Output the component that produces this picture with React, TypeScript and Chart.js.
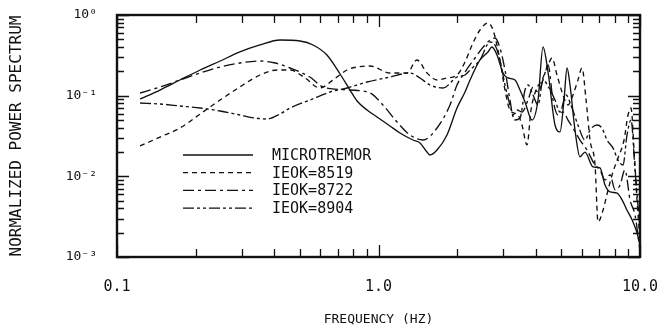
import React, { useEffect, useRef } from "react";
import { Chart, registerables } from "chart.js";

Chart.register(...registerables);

// ---- data ----
const seriesLabels = ["MICROTREMOR", "IEOK=8519", "IEOK=8722", "IEOK=8904"];

const microFreq = [0.1225, 0.146, 0.174, 0.208, 0.248, 0.295, 0.352, 0.42, 0.501, 0.562, 0.635, 0.713, 0.778, 0.828, 0.904, 0.987, 1.106, 1.208, 1.355, 1.441, 1.533, 1.574, 1.674, 1.828, 1.996, 2.142, 2.239, 2.444, 2.622, 2.716, 2.839, 2.993, 3.127, 3.327, 3.476, 3.633, 3.864, 4.074, 4.257, 4.449, 4.731, 4.944, 5.121, 5.259, 5.399, 5.642, 5.896, 6.16, 6.61, 7.03, 7.35, 7.68, 8.17, 8.54, 8.92, 9.32, 9.74, 10.0];
const microValues = [0.091, 0.1175, 0.1564, 0.208, 0.269, 0.348, 0.425, 0.49, 0.476, 0.425, 0.319, 0.1856, 0.1175, 0.0859, 0.0664, 0.0544, 0.0421, 0.0345, 0.0282, 0.0259, 0.02, 0.0184, 0.0212, 0.0326, 0.0703, 0.111, 0.1564, 0.277, 0.348, 0.401, 0.319, 0.191, 0.1656, 0.1564, 0.1175, 0.0835, 0.0499, 0.0884, 0.401, 0.1965, 0.0433, 0.0355, 0.0884, 0.2203, 0.1356, 0.0375, 0.0174, 0.02, 0.0131, 0.0127, 0.0078, 0.0064, 0.0062, 0.0051, 0.0038, 0.0029, 0.002, 0.0014];

const ieok8519Freq = [0.1225, 0.146, 0.174, 0.208, 0.248, 0.303, 0.352, 0.409, 0.459, 0.524, 0.597, 0.67, 0.758, 0.828, 0.928, 1.106, 1.285, 1.403, 1.533, 1.674, 1.828, 1.996, 2.142, 2.279, 2.444, 2.622, 2.741, 2.914, 3.046, 3.183, 3.416, 3.537, 3.698, 3.83, 4.002, 4.22, 4.449, 4.609, 4.816, 5.032, 5.305, 5.542, 5.79, 6.0, 6.22, 6.44, 6.73, 6.91, 7.22, 7.55, 7.88, 8.24, 8.69, 9.0, 9.24, 9.49, 9.74, 10.0];
const ieok8519Values = [0.0238, 0.0307, 0.0397, 0.0593, 0.0884, 0.1356, 0.1804, 0.208, 0.208, 0.1656, 0.1245, 0.1564, 0.208, 0.2266, 0.2332, 0.191, 0.191, 0.277, 0.191, 0.1564, 0.1656, 0.1804, 0.2615, 0.425, 0.652, 0.796, 0.652, 0.277, 0.1175, 0.0664, 0.0576, 0.0433, 0.0245, 0.0664, 0.1175, 0.1564, 0.24, 0.293, 0.1804, 0.111, 0.0766, 0.1019, 0.1564, 0.2203, 0.0884, 0.0282, 0.0138, 0.00272, 0.0038, 0.0068, 0.0113, 0.0169, 0.0282, 0.0576, 0.0703, 0.0212, 0.0051, 0.0016];

const ieok8722Freq = [0.1225, 0.146, 0.174, 0.208, 0.248, 0.295, 0.352, 0.402, 0.459, 0.547, 0.614, 0.778, 0.928, 1.04, 1.177, 1.319, 1.48, 1.674, 1.877, 1.996, 2.142, 2.339, 2.554, 2.789, 2.914, 3.046, 3.183, 3.268, 3.385, 3.537, 3.731, 3.898, 4.074, 4.257, 4.449, 4.648, 4.858, 5.076, 5.305, 5.542, 5.896, 6.27, 6.73, 7.03, 7.35, 7.68, 8.03, 8.39, 8.76, 9.16, 9.57, 10.0];
const ieok8722Values = [0.1079, 0.128, 0.1564, 0.191, 0.2266, 0.254, 0.269, 0.254, 0.2203, 0.1703, 0.128, 0.1175, 0.1079, 0.0766, 0.0472, 0.0326, 0.0282, 0.0397, 0.0766, 0.1356, 0.1965, 0.293, 0.425, 0.519, 0.39, 0.208, 0.0884, 0.0576, 0.0664, 0.0627, 0.0884, 0.128, 0.111, 0.1564, 0.24, 0.0884, 0.0576, 0.0627, 0.0499, 0.0397, 0.0282, 0.0212, 0.0138, 0.012, 0.009, 0.0104, 0.0068, 0.0078, 0.012, 0.0051, 0.0033, 0.0012];

const ieok8904Freq = [0.1225, 0.146, 0.174, 0.208, 0.248, 0.295, 0.337, 0.375, 0.42, 0.459, 0.547, 0.653, 0.758, 0.904, 1.106, 1.319, 1.441, 1.574, 1.765, 1.996, 2.142, 2.239, 2.444, 2.669, 2.789, 2.914, 3.046, 3.183, 3.327, 3.476, 3.633, 3.731, 3.898, 4.074, 4.257, 4.487, 4.731, 4.944, 5.212, 5.495, 5.79, 6.16, 6.44, 6.85, 7.15, 7.48, 7.88, 8.24, 8.61, 8.92, 9.24, 9.57, 10.0];
const ieok8904Values = [0.0811, 0.0788, 0.0745, 0.0703, 0.0646, 0.0576, 0.0528, 0.0514, 0.0593, 0.0703, 0.0884, 0.111, 0.1245, 0.1477, 0.1703, 0.191, 0.1656, 0.1356, 0.1245, 0.1703, 0.1804, 0.208, 0.277, 0.463, 0.425, 0.277, 0.1356, 0.0766, 0.0499, 0.0528, 0.1175, 0.1356, 0.1019, 0.0766, 0.1564, 0.1245, 0.0884, 0.0627, 0.1019, 0.0703, 0.0433, 0.0282, 0.0375, 0.0433, 0.0397, 0.0282, 0.0225, 0.0159, 0.0138, 0.0326, 0.0499, 0.012, 0.0022];

const xTickValues = [0.1, 1, 10];
const xTickLabels = ["0.1", "1.0", "10.0"];
const xMinorTicks = [0.2, 0.3, 0.4, 0.5, 0.6, 0.7, 0.8, 0.9, 2, 3, 4, 5, 6, 7, 8, 9];
const yTickValues = [0.001, 0.01, 0.1, 1];
const yTickLabels = ["10\u207B\u00B3", "10\u207B\u00B2", "10\u207B\u00B9", "10\u2070"];
const yMinorTicks = [0.002, 0.003, 0.004, 0.005, 0.006, 0.007, 0.008, 0.009, 0.02, 0.03, 0.04, 0.05, 0.06, 0.07, 0.08, 0.09, 0.2, 0.3, 0.4, 0.5, 0.6, 0.7, 0.8, 0.9];

const xTitle = "FREQUENCY (HZ)";
const yTitle = "NORMALIZED POWER SPECTRUM";

const FONT = "'DejaVu Sans Mono', monospace";
const INK = "#111";

function toPoints(f: number[], v: number[]) {
  return f.map((x, i) => ({ x, y: v[i] }));
}

export default function App() {
  const ref = useRef<HTMLCanvasElement | null>(null);

  useEffect(() => {
    document.body.style.margin = "0";
    const canvas = ref.current;
    if (!canvas) return;

    const framePlugin = {
      id: "frameTicks",
      afterDraw(chart: any) {
        const { ctx, chartArea: a, scales } = chart;
        const x = scales.x;
        const y = scales.y;
        ctx.save();
        ctx.strokeStyle = INK;
        ctx.lineWidth = 1.3;
        ctx.beginPath();
        const xt = (vals: number[], len: number) => {
          for (const v of vals) {
            const px = Math.round(x.getPixelForValue(v)) + 0.5;
            ctx.moveTo(px, a.bottom);
            ctx.lineTo(px, a.bottom - len);
            ctx.moveTo(px, a.top);
            ctx.lineTo(px, a.top + len);
          }
        };
        const yt = (vals: number[], len: number) => {
          for (const v of vals) {
            const py = Math.round(y.getPixelForValue(v)) + 0.5;
            ctx.moveTo(a.left, py);
            ctx.lineTo(a.left + len, py);
            ctx.moveTo(a.right, py);
            ctx.lineTo(a.right - len, py);
          }
        };
        xt(xTickValues, 12);
        xt(xMinorTicks, 8);
        yt(yTickValues, 12);
        yt(yMinorTicks, 7);
        ctx.stroke();
        ctx.lineWidth = 2.4;
        ctx.strokeRect(a.left, a.top, a.right - a.left, a.bottom - a.top);
        ctx.restore();
      },
    };

    const legendPlugin = {
      id: "innerLegend",
      afterDraw(chart: any) {
        const { ctx, chartArea: a } = chart;
        ctx.save();
        ctx.font = `15px ${FONT}`;
        ctx.fillStyle = INK;
        ctx.textBaseline = "middle";
        ctx.textAlign = "left";
        chart.data.datasets.forEach((ds: any, i: number) => {
          const yy = a.top + 140 + i * 17.7;
          ctx.strokeStyle = INK;
          ctx.lineWidth = 1.3;
          ctx.setLineDash(ds.borderDash || []);
          ctx.beginPath();
          ctx.moveTo(a.left + 66, yy);
          ctx.lineTo(a.left + 136, yy);
          ctx.stroke();
          ctx.setLineDash([]);
          ctx.fillText(ds.label, a.left + 155, yy + 1);
        });
        ctx.restore();
      },
    };

    const dashes = [[], [5, 4], [11, 4, 3, 4], [11, 3, 3, 3, 3, 3]];
    const series = [
      toPoints(microFreq, microValues),
      toPoints(ieok8519Freq, ieok8519Values),
      toPoints(ieok8722Freq, ieok8722Values),
      toPoints(ieok8904Freq, ieok8904Values),
    ];

    const chart = new Chart(canvas, {
      type: "line",
      data: {
        datasets: series.map((data, i) => ({
          label: seriesLabels[i],
          data,
          borderColor: INK,
          borderWidth: 1.35,
          borderDash: dashes[i],
          pointRadius: 0,
          fill: false,
          cubicInterpolationMode: "monotone" as const,
        })),
      },
      options: {
        animation: false,
        responsive: true,
        maintainAspectRatio: false,
        layout: { padding: { top: 15, right: 22, left: 0, bottom: 0 } },
        plugins: { legend: { display: false }, tooltip: { enabled: false } },
        scales: {
          x: {
            type: "logarithmic",
            min: 0.1,
            max: 10,
            grid: { display: false, drawTicks: false },
            border: { display: false },
            afterBuildTicks: (s: any) => {
              s.ticks = xTickValues.map((v) => ({ value: v }));
            },
            afterFit: (s: any) => {
              s.height = 75;
              s.paddingLeft = 0;
              s.paddingRight = 0;
            },
            ticks: {
              autoSkip: false,
              maxRotation: 0,
              padding: 21,
              color: INK,
              font: { family: FONT, size: 15 },
              callback: (v: any) => {
                const i = xTickValues.indexOf(Number(v));
                return i >= 0 ? xTickLabels[i] : "";
              },
            },
            title: {
              display: true,
              text: xTitle,
              color: INK,
              font: { family: FONT, size: 13 },
              padding: { top: 0, bottom: 5 },
            },
          },
          y: {
            type: "logarithmic",
            min: 0.001,
            max: 1,
            grid: { display: false, drawTicks: false },
            border: { display: false },
            afterBuildTicks: (s: any) => {
              s.ticks = yTickValues.map((v) => ({ value: v }));
            },
            afterFit: (s: any) => {
              s.width = 117;
              s.paddingTop = 0;
              s.paddingBottom = 0;
            },
            ticks: {
              autoSkip: false,
              padding: 20,
              color: INK,
              font: { family: FONT, size: 13 },
              callback: (v: any) => {
                const i = yTickValues.findIndex((t) => Math.abs(t - Number(v)) < 1e-9);
                return i >= 0 ? yTickLabels[i] : "";
              },
            },
            title: {
              display: true,
              text: yTitle,
              color: INK,
              font: { family: FONT, size: 16 },
              padding: { top: 7, bottom: 0 },
            },
          },
        },
      },
      plugins: [framePlugin, legendPlugin],
    });

    return () => chart.destroy();
  }, []);

  return (
    <div style={{ width: 662, height: 332, position: "relative" }}>
      <canvas ref={ref} />
    </div>
  );
}
